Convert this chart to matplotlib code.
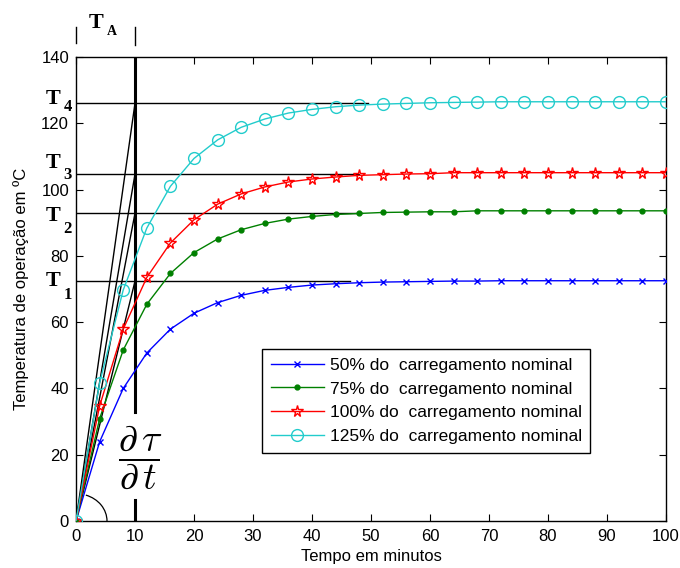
import matplotlib
matplotlib.use('Agg')
import matplotlib.pyplot as plt
from matplotlib.patches import Arc

plt.rcParams['font.family'] = ['Liberation Sans', 'DejaVu Sans']

# ── Data (markers every 4 min) ──────────────────────────────────────────
tempo = list(range(0, 101, 4))
carga_50 = [0, 23.9, 40.0, 50.7, 57.9, 62.7, 65.9, 68.1, 69.6, 70.5, 71.2,
            71.6, 71.9, 72.1, 72.2, 72.3, 72.4, 72.4, 72.5, 72.5, 72.5,
            72.5, 72.5, 72.5, 72.5, 72.5]
carga_75 = [0, 30.9, 51.6, 65.4, 74.7, 81.0, 85.1, 87.9, 89.8, 91.1, 91.9,
            92.5, 92.8, 93.1, 93.2, 93.3, 93.3, 93.6, 93.6, 93.6, 93.6,
            93.6, 93.6, 93.6, 93.6, 93.6]
carga_100 = [0, 34.7, 57.9, 73.5, 83.9, 90.9, 95.6, 98.7, 100.8, 102.3, 103.2,
             103.8, 104.3, 104.5, 104.7, 104.8, 105.1, 105.1, 105.1, 105.1,
             105.1, 105.1, 105.1, 105.1, 105.1, 105.1]
carga_125 = [0, 41.7, 69.7, 88.4, 101.0, 109.4, 115.0, 118.8, 121.3, 123.1,
             124.2, 125.0, 125.5, 125.8, 126.0, 126.2, 126.3, 126.4, 126.5,
             126.5, 126.5, 126.5, 126.5, 126.5, 126.5, 126.5]
legendas = ['50% do  carregamento nominal', '75% do  carregamento nominal',
            '100% do  carregamento nominal', '125% do  carregamento nominal']

# steady-state reference levels T1..T4 and where their lines end
niveis_T = [72.4, 92.9, 104.7, 126.1]
fim_T = [46.5, 48.5, 48.0, 49.5]
T_A = 10

fig = plt.figure(figsize=(6.8, 5.68), dpi=100)
ax = fig.add_axes([0.1118, 0.0827, 0.8676, 0.8169])
ax.set_xlim(0, 100)
ax.set_ylim(0, 140)

# ── reference lines (T levels, tangents, T_A marker) ────────────────────
for nivel, fim in zip(niveis_T, fim_T):
    ax.plot([0, fim], [nivel, nivel], color='black', lw=1.0, zorder=2)
    ax.plot([0, T_A], [0, nivel], color='black', lw=1.0, zorder=2)

ax.plot([T_A, T_A], [33, 140], color='black', lw=2.2, zorder=2)
ax.plot([T_A, T_A], [0, 6.3], color='black', lw=2.2, zorder=2)
ax.plot([T_A, T_A], [143.6, 149.1], color='black', lw=1.0, clip_on=False)
ax.plot([0, 0], [144.2, 149.1], color='black', lw=1.0, clip_on=False)

ax.add_patch(Arc((0, 0), 10.5, 16.5, theta1=0, theta2=78,
                 color='black', lw=0.9, zorder=2))

# ── curves ───────────────────────────────────────────────────────────────
ax.plot(tempo, carga_50, color='#0000ff', lw=1.0, marker='x', ms=5,
        mew=1.0, label=legendas[0], zorder=3)
ax.plot(tempo, carga_75, color='#008000', lw=1.0, marker='.', ms=7,
        label=legendas[1], zorder=3)
ax.plot(tempo, carga_100, color='#ff0000', lw=1.0, marker='*', ms=8.5,
        mfc='none', mew=1.0, label=legendas[2], zorder=3)
ax.plot(tempo, carga_125, color='#22cccc', lw=1.0, marker='o', ms=8.5,
        mfc='none', mew=1.0, label=legendas[3], zorder=3)

# ── labels T1..T4, T_A and derivative ────────────────────────────────────
serif = dict(family=['Liberation Serif', 'DejaVu Serif'], weight='bold',
             color='black', ha='center', va='center', clip_on=False)
pos_T = [(72.4, 68.3), (92.0, 88.2), (108.0, 104.5), (127.3, 125.0)]
for i, (yt, yd) in enumerate(pos_T):
    ax.text(-3.9, yt, 'T', fontsize=16, **serif)
    ax.text(-1.4, yd, str(i + 1), fontsize=12, **serif)
ax.text(3.4, 150.4, 'T', fontsize=16, **serif)
ax.text(6.1, 147.6, 'A', fontsize=10, **serif)

ax.text(10.8, 19.3, r'$\dfrac{\partial\,\tau}{\partial\,t}$', fontsize=27,
        ha='center', va='center', math_fontfamily='cm', zorder=4)

# ── axes styling (MATLAB look) ───────────────────────────────────────────
ax.set_xticks(range(0, 101, 10))
ax.set_yticks(range(0, 141, 20))
ax.tick_params(direction='in', top=True, right=True, length=5, labelsize=12)
ax.tick_params(axis='x', pad=6)
ax.tick_params(axis='y', pad=5)
for s in ax.spines.values():
    s.set_linewidth(1.0)
ax.set_xlabel('Tempo em minutos', fontsize=12, labelpad=3)
ax.set_ylabel('Temperatura de operação em ºC', fontsize=12, labelpad=9)

leg = ax.legend(loc='upper left', bbox_to_anchor=(0.315, 0.371),
                fontsize=12.5, frameon=True, fancybox=False,
                edgecolor='black', framealpha=1, handlelength=3.1,
                handletextpad=0.3, borderpad=0.5, labelspacing=0.5,
                borderaxespad=0)
leg.get_frame().set_linewidth(1.0)

fig.savefig('out.png', dpi=100)
